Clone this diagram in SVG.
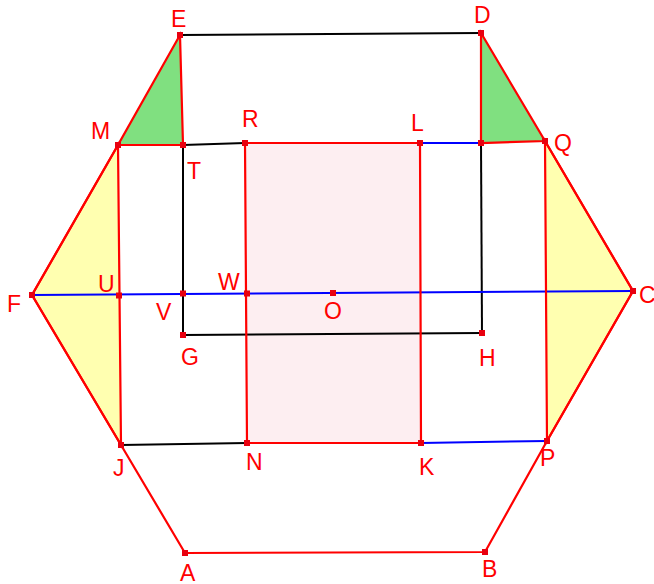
<svg xmlns="http://www.w3.org/2000/svg" width="654" height="584" viewBox="0 0 654 584">
<style>
.r{stroke:#ff0000;stroke-width:2.2;fill:none;stroke-linecap:round}
.k{stroke:#000000;stroke-width:2;fill:none}
.b{stroke:#0000ff;stroke-width:2;fill:none}
.pt{fill:#e8000f}
text{font-family:"Liberation Sans",Arial,sans-serif;font-size:23px;fill:#ff0000}
</style>
<rect width="654" height="584" fill="#ffffff"/>
<g id="fills">
<polygon points="245,143 420,143 421,443 247,443" fill="#fdeef1"/>
<polygon points="180,35 118,145 183,145" fill="#80e080"/>
<polygon points="481,33 481,143 545,141" fill="#80e080"/>
<polygon points="118,145 32,295 121,445" fill="#ffffb0"/>
<polygon points="545,141 633,291 547,441" fill="#ffffb0"/>
</g>
<g id="connectors">
<line class="k" x1="180" y1="35" x2="481" y2="33"/>
<line class="k" x1="183" y1="145" x2="245" y2="143"/>
<line class="k" x1="183" y1="145" x2="183" y2="335"/>
<line class="k" x1="183" y1="335" x2="482" y2="333"/>
<line class="k" x1="482" y1="333" x2="481" y2="143"/>
<line class="k" x1="121" y1="445" x2="247" y2="443"/>
<line class="b" x1="32" y1="295" x2="633" y2="291"/>
<line class="b" x1="420" y1="143" x2="481" y2="143"/>
<line class="b" x1="421" y1="443" x2="547" y2="441"/>
<polygon class="r" points="245,143 420,143 421,443 247,443"/>
<polygon class="r" points="180,35 118,145 183,145"/>
<polygon class="r" points="481,33 481,143 545,141"/>
<polyline class="r" points="118,145 32,295 121,445" stroke="#ff9900" stroke-width="3.5"/>
<polygon class="r" points="118,145 32,295 121,445"/>
<polyline class="r" points="545,141 633,291 547,441" stroke="#ff9900" stroke-width="3.5"/>
<polygon class="r" points="545,141 633,291 547,441"/>
<polyline class="r" points="121,445 185,553 485,552 547,441"/>
</g>
<g id="points">
<rect class="pt" x="177" y="32" width="6" height="6"/>
<rect class="pt" x="478" y="30" width="6" height="6"/>
<rect class="pt" x="115" y="142" width="6" height="6"/>
<rect class="pt" x="180" y="142" width="6" height="6"/>
<rect class="pt" x="242" y="140" width="6" height="6"/>
<rect class="pt" x="417" y="140" width="6" height="6"/>
<rect class="pt" x="478" y="140" width="6" height="6"/>
<rect class="pt" x="542" y="138" width="6" height="6"/>
<rect class="pt" x="29" y="292" width="6" height="6"/>
<rect class="pt" x="116" y="292.5" width="6" height="6"/>
<rect class="pt" x="180" y="290.5" width="6" height="6"/>
<rect class="pt" x="244" y="290.5" width="6" height="6"/>
<rect class="pt" x="330" y="290" width="6" height="6"/>
<rect class="pt" x="630" y="288" width="6" height="6"/>
<rect class="pt" x="180" y="332" width="6" height="6"/>
<rect class="pt" x="479" y="330" width="6" height="6"/>
<rect class="pt" x="118" y="442" width="6" height="6"/>
<rect class="pt" x="244" y="440" width="6" height="6"/>
<rect class="pt" x="418" y="440" width="6" height="6"/>
<rect class="pt" x="544" y="438" width="6" height="6"/>
<rect class="pt" x="182" y="550" width="6" height="6"/>
<rect class="pt" x="482" y="549" width="6" height="6"/>
</g>
<g id="labels">
<text x="171" y="27">E</text>
<text x="474" y="23">D</text>
<text x="91" y="139">M</text>
<text x="187" y="179">T</text>
<text x="242" y="127">R</text>
<text x="411" y="131">L</text>
<text x="554" y="151">Q</text>
<text x="7" y="312">F</text>
<text x="98" y="292">U</text>
<text x="156" y="320">V</text>
<text x="218" y="290">W</text>
<text x="324" y="319">O</text>
<text x="181" y="365">G</text>
<text x="479" y="366">H</text>
<text x="639" y="303">C</text>
<text x="113" y="476">J</text>
<text x="246" y="470">N</text>
<text x="419" y="475">K</text>
<text x="180" y="581">A</text>
<text x="540" y="466">P</text>
<text x="482" y="577">B</text>
</g>
</svg>
